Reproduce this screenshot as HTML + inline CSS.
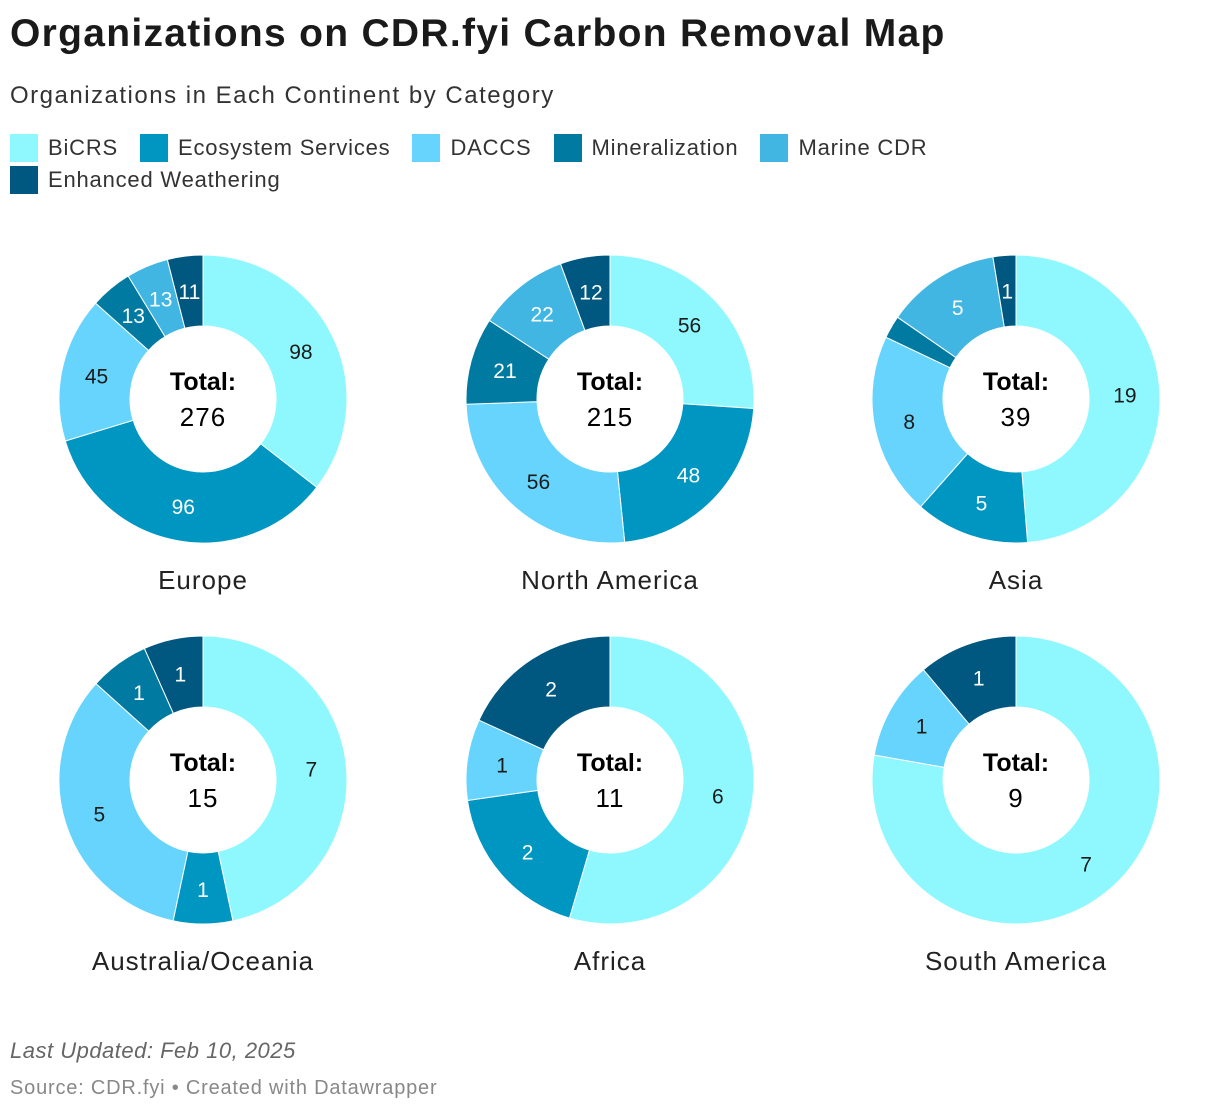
<!DOCTYPE html>
<html><head><meta charset="utf-8">
<style>
body{margin:0;background:#fff;width:1220px;height:1112px;overflow:hidden;font-family:"Liberation Sans",Arial,sans-serif;color:#1a1a1a}
.t{position:absolute;left:10px;top:12px;font-size:39px;font-weight:bold;letter-spacing:1.3px}
.s{position:absolute;left:10px;top:82px;font-size:24px;color:#333;letter-spacing:1.5px}
.lg{position:absolute;left:10px;top:134px;width:1100px;font-size:22px;color:#333;letter-spacing:0.8px}
.li{display:inline-block;margin-right:22px;height:32px;line-height:28px}
.sw{display:inline-block;width:28px;height:28px;vertical-align:top;margin-right:10px}
.f1{position:absolute;left:10px;top:1038px;font-size:22px;font-style:italic;color:#666;letter-spacing:0.5px}
.f2{position:absolute;left:10px;top:1077px;font-size:20px;color:#888;letter-spacing:0.8px}
</style></head><body>
<div class="t">Organizations on CDR.fyi Carbon Removal Map</div>
<div class="s">Organizations in Each Continent by Category</div>
<div class="lg" id="legend"></div>
<svg id="chart" width="1220" height="1112" style="position:absolute;left:0;top:0"></svg>
<div class="f1">Last Updated: Feb 10, 2025</div>
<div class="f2">Source: CDR.fyi • Created with Datawrapper</div>
<script>
const categories=["BiCRS","Ecosystem Services","DACCS","Mineralization","Marine CDR","Enhanced Weathering"];
const continents=["Europe","North America","Asia","Australia/Oceania","Africa","South America"];
const europe=[98,96,45,13,13,11];
const northAmerica=[56,48,56,21,22,12];
const asia=[19,5,8,1,5,1];
const oceania=[7,1,5,1,0,1];
const africa=[6,2,1,0,0,2];
const southAmerica=[7,0,1,0,0,1];
const series=[europe,northAmerica,asia,oceania,africa,southAmerica];
const colors=["#8ff8ff","#0096c2","#66d4fc","#007aa0","#42b6e3","#005880"];
const textCol=["#1a1a1a","#fff","#1a1a1a","#fff","#fff","#fff"];
const NS="http://www.w3.org/2000/svg";
const lg=document.getElementById('legend');
categories.forEach((c,i)=>{
  const d=document.createElement('span');d.className='li';
  
  
  d.innerHTML='<span class="sw" style="background:'+colors[i]+'"></span>'+c;
  lg.appendChild(d);
});
const svg=document.getElementById('chart');
const cx=[203,610,1016],cy=[399,780],R=144,r=73;
function pt(a,rad,x,y){return [x+rad*Math.sin(a),y-rad*Math.cos(a)];}
series.forEach((vals,k)=>{
  const x=cx[k%3],y=cy[Math.floor(k/3)];
  const tot=vals.reduce((a,b)=>a+b,0);
  let lastIdx=-1;vals.forEach((v,i)=>{if(v)lastIdx=i;});
  let a0=0;
  vals.forEach((v,i)=>{
    if(!v)return;
    const a1=a0+v/tot*2*Math.PI;
    const p=document.createElementNS(NS,'path');
    let d;
    if(v===tot){
      d=`M${x} ${y-R}A${R} ${R} 0 1 1 ${x-0.01} ${y-R}ZM${x} ${y-r}A${r} ${r} 0 1 0 ${x-0.01} ${y-r}Z`;
    }else{
      const lf=(a1-a0)>Math.PI?1:0;
      const [x1,y1]=pt(a0,R,x,y),[x2,y2]=pt(a1,R,x,y),[x3,y3]=pt(a1,r,x,y),[x4,y4]=pt(a0,r,x,y);
      d=`M${x1} ${y1}A${R} ${R} 0 ${lf} 1 ${x2} ${y2}L${x3} ${y3}A${r} ${r} 0 ${lf} 0 ${x4} ${y4}Z`;
    }
    p.setAttribute('d',d);p.setAttribute('fill',colors[i]);p.setAttribute('stroke','#fff');p.setAttribute('stroke-width','1');
    
    
    svg.appendChild(p);
    if(v/tot>0.03 || (i===lastIdx && v/tot>0.015)){
      const [lx,ly]=pt((a0+a1)/2,109,x,y);
      const t=document.createElementNS(NS,'text');
      t.setAttribute('x',lx);t.setAttribute('y',ly+8);t.setAttribute('text-anchor','middle');
      t.setAttribute('font-size','21');t.setAttribute('fill',textCol[i]);
      
      
      t.textContent=v;svg.appendChild(t);
    }
    a0=a1;
  });
  const t1=document.createElementNS(NS,'text');
  t1.setAttribute('x',x);t1.setAttribute('y',y-9);t1.setAttribute('text-anchor','middle');
  t1.setAttribute('font-size','25');t1.setAttribute('font-weight','bold');
  
  
  t1.textContent='Total:';svg.appendChild(t1);
  const t2=document.createElementNS(NS,'text');
  t2.setAttribute('x',x);t2.setAttribute('y',y+27);t2.setAttribute('text-anchor','middle');
  t2.setAttribute('font-size','26');t2.setAttribute('letter-spacing','1');
  
  
  t2.textContent=tot;svg.appendChild(t2);
  const t3=document.createElementNS(NS,'text');
  t3.setAttribute('x',x);t3.setAttribute('y',y+190);t3.setAttribute('text-anchor','middle');
  t3.setAttribute('font-size','26');t3.setAttribute('fill','#222');t3.setAttribute('letter-spacing','1');
  
  
  t3.textContent=continents[k];svg.appendChild(t3);
});
</script>
</body></html>
